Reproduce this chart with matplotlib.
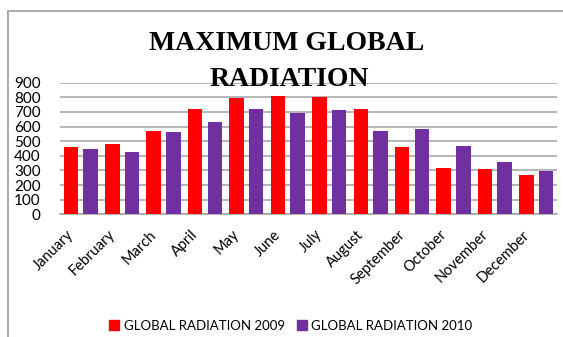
import numpy as np
import matplotlib
matplotlib.use("Agg")
import matplotlib.pyplot as plt
from matplotlib.lines import Line2D
from matplotlib.patches import Rectangle

months = ["January", "February", "March", "April", "May", "June", "July",
          "August", "September", "October", "November", "December"]
rad_2009 = [460, 481, 570, 720, 798, 812, 803, 720, 460, 317, 310, 269]
rad_2010 = [447, 426, 563, 632, 720, 693, 714, 570, 584, 467, 358, 299]
yticks = [0, 100, 200, 300, 400, 500, 600, 700, 800, 900]

RED = "#FF0000"
PURPLE = "#7030A0"
sans = ["Lato", "DejaVu Sans"]

fig = plt.figure(figsize=(5.63, 3.37), dpi=100)
# outer chart frame, runs off the right and bottom edges
fig.patches.append(Rectangle((8 / 563, -0.1), 1.2, 1 - 11 / 337 + 0.1,
                             transform=fig.transFigure, fill=False,
                             edgecolor="#a6a6a6", linewidth=1.3, zorder=0))

ax = fig.add_axes([60 / 563, 1 - 214.3 / 337, 497 / 563, 131.6 / 337])
x = np.arange(len(months))
w = 0.35
ax.bar(x - 0.237, rad_2009, w, color=RED, zorder=3)
ax.bar(x + 0.237, rad_2010, w, color=PURPLE, zorder=3)

ax.set_xlim(-0.5, len(months) - 0.5)
ax.set_ylim(0, 900)
ax.set_yticks(yticks)
ax.set_yticklabels([str(v) for v in yticks], fontfamily=sans, fontsize=11)
# rotated labels end a little left of the group centre
ax.set_xticks(x - 0.22)
ax.set_xticklabels(months, rotation=45, ha="right", va="center",
                   rotation_mode="anchor", fontfamily=sans, fontsize=10.5)
ax.tick_params(length=0)
ax.tick_params(axis="y", pad=14)
ax.tick_params(axis="x", pad=13)
ax.grid(axis="y", color="#a0a0a0", linewidth=1.1, zorder=0)
for s in ["left", "right", "top"]:
    ax.spines[s].set_visible(False)
ax.spines["bottom"].set_color("#a0a0a0")
ax.spines["bottom"].set_linewidth(1.1)

fig.text(287 / 563, 1 - 43 / 337, "MAXIMUM GLOBAL", ha="center", va="center",
         fontfamily="Liberation Serif", fontweight="bold", fontsize=20)
fig.text(289 / 563, 1 - 80 / 337, "RADIATION", ha="center", va="center",
         fontfamily="Liberation Serif", fontweight="bold", fontsize=20)

handles = [Line2D([], [], marker="s", linestyle="", markersize=7, color=RED),
           Line2D([], [], marker="s", linestyle="", markersize=7, color=PURPLE)]
fig.legend(handles, ["GLOBAL RADIATION 2009", "GLOBAL RADIATION 2010"],
           loc="center", bbox_to_anchor=(290 / 563, 1 - 326 / 337), ncol=2,
           frameon=False, prop={"family": sans, "size": 9.5},
           handletextpad=0.2, columnspacing=0.8, handlelength=1.0)

fig.savefig("out.png", dpi=100)
